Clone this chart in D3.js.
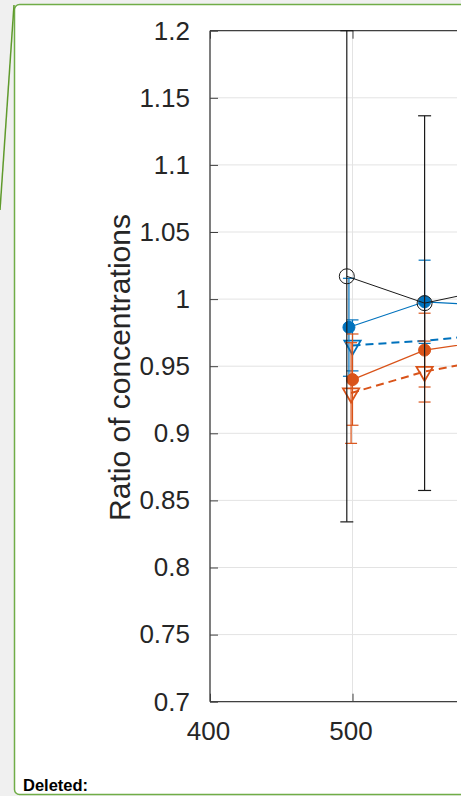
<!DOCTYPE html>
<html><head><meta charset="utf-8">
<script src="https://cdn.jsdelivr.net/npm/d3@7"></script>
<style>html,body{margin:0;padding:0;background:#f0f0f0;}svg{display:block;}</style>
</head><body>
<script>
// ---- data ----
const yTicks = [0.7, 0.75, 0.8, 0.85, 0.9, 0.95, 1, 1.05, 1.1, 1.15, 1.2];
const yTickLabels = ["0.7", "0.75", "0.8", "0.85", "0.9", "0.95", "1", "1.05", "1.1", "1.15", "1.2"];
const xTicks = [400, 500];
const xTickLabels = ["400", "500"];

const blackX = [496, 550.6, 600];
const blackY = [1.017, 0.997, 1.008];
const blackErr = [0.183, 0.1396, null];

const blueCircX = [497.5, 550.6, 600];
const blueCircY = [0.979, 0.998, 0.995];
const blueCircErr = [0.0365, 0.031, null];

const blueTriX = [500, 550.6, 600];
const blueTriY = [0.9655, 0.969, 0.974];
const blueTriErr = [0.019, null, null];
const blueTriMarker = [true, false, false];

const orangeCircX = [500, 550.6, 600];
const orangeCircY = [0.940, 0.962, 0.9695];
const orangeCircErr = [0.034, 0.0275, null];

const orangeTriX = [499, 550.6, 600];
const orangeTriY = [0.930, 0.946, 0.9557];
const orangeTriErr = [0.0375, 0.0227, null];

const yLabel = "Ratio of concentrations";
const noteLabel = "Deleted:";

// ---- drawing ----
const W = 461, H = 796;
const svg = d3.select("body").append("svg").attr("width", W).attr("height", H);

svg.append("rect").attr("x", 0).attr("y", 0).attr("width", W).attr("height", H).attr("fill", "#f0f0f0");
svg.append("rect").attr("x", 14.5).attr("y", 4.5).attr("width", 520).attr("height", 790)
  .attr("rx", 5).attr("fill", "#fff").attr("stroke", "#70ad47").attr("stroke-width", 1.5);
svg.append("line").attr("x1", 14).attr("y1", 5).attr("x2", 0).attr("y2", 210)
  .attr("stroke", "#5f9a2c").attr("stroke-width", 1.5);

svg.append("text").attr("x", 23).attr("y", 791)
  .attr("font-family", "Liberation Sans, Arial, sans-serif").attr("font-weight", "bold")
  .attr("font-size", 16.5).attr("fill", "#000").text(noteLabel);

const x = d3.scaleLinear().domain([400, 700]).range([210, 637.5]);
const y = d3.scaleLinear().domain([0.7, 1.2]).range([701.7, 30.7]);

svg.append("clipPath").attr("id", "clip").append("rect")
  .attr("x", 0).attr("y", 0).attr("width", 457).attr("height", H);

const plot = svg.append("g").attr("clip-path", "url(#clip)");
const x0 = x.range()[0], x1 = x.range()[1];
const yTop = y.range()[1], yBot = y.range()[0];

// grid
plot.selectAll("line.gy").data(yTicks).join("line").attr("class", "gy")
  .attr("x1", x0).attr("x2", x1).attr("y1", d => y(d)).attr("y2", d => y(d))
  .attr("stroke", "#e3e3e3").attr("stroke-width", 1);
plot.selectAll("line.gx").data(xTicks).join("line").attr("class", "gx")
  .attr("x1", d => x(d)).attr("x2", d => x(d)).attr("y1", yTop).attr("y2", yBot)
  .attr("stroke", "#e3e3e3").attr("stroke-width", 1);

// axes using d3 axes (inward ticks)
const font = "Liberation Sans, Arial, Helvetica, sans-serif";
const yAxis = d3.axisLeft(y).tickValues(yTicks).tickFormat((d, i) => yTickLabels[i]).tickSize(-8).tickPadding(20);
const gy = svg.append("g").attr("transform", `translate(${x0},0)`).call(yAxis);
gy.select(".domain").remove();
gy.selectAll(".tick line").attr("stroke", "#404040").attr("stroke-width", 1);
gy.selectAll(".tick text").attr("font-family", font).attr("font-size", 26).attr("fill", "#262626");

const xAxis = d3.axisBottom(x).tickValues(xTicks).tickFormat((d, i) => xTickLabels[i]).tickSize(-8).tickPadding(20);
const gx = plot.append("g").attr("transform", `translate(0,${yBot})`).call(xAxis);
gx.select(".domain").remove();
gx.selectAll(".tick line").attr("stroke", "#404040").attr("stroke-width", 1);
gx.selectAll(".tick text").attr("font-family", font).attr("font-size", 26).attr("fill", "#262626").attr("dx", -2);

const xAxisTop = d3.axisTop(x).tickValues(xTicks).tickFormat("").tickSize(-8);
const gxt = plot.append("g").attr("transform", `translate(0,${yTop})`).call(xAxisTop);
gxt.select(".domain").remove();
gxt.selectAll(".tick line").attr("stroke", "#404040").attr("stroke-width", 1);

// spines
plot.append("line").attr("x1", x0).attr("x2", x1).attr("y1", yTop).attr("y2", yTop).attr("stroke", "#404040").attr("stroke-width", 1.3);
plot.append("line").attr("x1", x0).attr("x2", x1).attr("y1", yBot).attr("y2", yBot).attr("stroke", "#404040").attr("stroke-width", 1.3);
svg.append("line").attr("x1", x0).attr("x2", x0).attr("y1", yTop).attr("y2", yBot).attr("stroke", "#404040").attr("stroke-width", 1.3);

// y label
svg.append("text").attr("transform", `translate(130,367.5) rotate(-90)`)
  .attr("text-anchor", "middle").attr("font-family", font).attr("font-size", 30)
  .attr("fill", "#262626").text(yLabel);

// series
function drawSeries(xs, ys, errs, color, opts) {
  const pts = xs.map((d, i) => ({x: d, y: ys[i], e: errs[i], m: opts.markers ? opts.markers[i] : true}));
  const g = plot.append("g");
  const line = d3.line().x(d => x(d.x)).y(d => y(d.y));
  g.append("path").attr("d", line(pts)).attr("fill", "none").attr("stroke", color)
    .attr("stroke-width", opts.lw).attr("stroke-dasharray", opts.dash || null);
  const eb = pts.filter(d => d.e != null);
  const cw = opts.cap;
  g.selectAll("line.ev").data(eb).join("line").attr("class", "ev")
    .attr("x1", d => x(d.x)).attr("x2", d => x(d.x))
    .attr("y1", d => y(d.y - d.e)).attr("y2", d => y(d.y + d.e))
    .attr("stroke", color).attr("stroke-width", opts.elw);
  g.selectAll("line.ct").data(eb).join("line").attr("class", "ct")
    .attr("x1", d => x(d.x) - cw / 2).attr("x2", d => x(d.x) + cw / 2)
    .attr("y1", d => y(d.y + d.e)).attr("y2", d => y(d.y + d.e))
    .attr("stroke", color).attr("stroke-width", opts.elw);
  g.selectAll("line.cb").data(eb).join("line").attr("class", "cb")
    .attr("x1", d => x(d.x) - cw / 2).attr("x2", d => x(d.x) + cw / 2)
    .attr("y1", d => y(d.y - d.e)).attr("y2", d => y(d.y - d.e))
    .attr("stroke", color).attr("stroke-width", opts.elw);
  const mk = pts.filter(d => d.m);
  if (opts.shape === "circle") {
    g.selectAll("circle").data(mk).join("circle")
      .attr("cx", d => x(d.x)).attr("cy", d => y(d.y)).attr("r", opts.r)
      .attr("fill", opts.fill ? color : "none").attr("stroke", color).attr("stroke-width", opts.mlw);
  } else {
    const sym = d3.symbol().type(d3.symbolTriangle).size(opts.size);
    g.selectAll("path.m").data(mk).join("path").attr("class", "m")
      .attr("d", sym).attr("transform", d => `translate(${x(d.x)},${y(d.y)}) rotate(180)`)
      .attr("fill", "none").attr("stroke", color).attr("stroke-width", opts.mlw);
  }
}

const blue = "#0072bd", orange = "#d95319", black = "#1a1a1a";
drawSeries(blueCircX, blueCircY, blueCircErr, blue, {lw: 1.2, elw: 1.2, cap: 12, shape: "circle", r: 6, fill: true, mlw: 1});
drawSeries(blueTriX, blueTriY, blueTriErr, blue, {lw: 2, dash: "8,5", elw: 1.2, cap: 12, shape: "tri", size: 115, mlw: 1.8, markers: blueTriMarker});
drawSeries(orangeCircX, orangeCircY, orangeCircErr, orange, {lw: 1.2, elw: 1.2, cap: 12, shape: "circle", r: 6, fill: true, mlw: 1});
drawSeries(orangeTriX, orangeTriY, orangeTriErr, orange, {lw: 2, dash: "8,5", elw: 1.2, cap: 12, shape: "tri", size: 115, mlw: 1.8});
drawSeries(blackX, blackY, blackErr, black, {lw: 1, elw: 1.2, cap: 13, shape: "circle", r: 7.5, fill: false, mlw: 1});
</script>
</body></html>
